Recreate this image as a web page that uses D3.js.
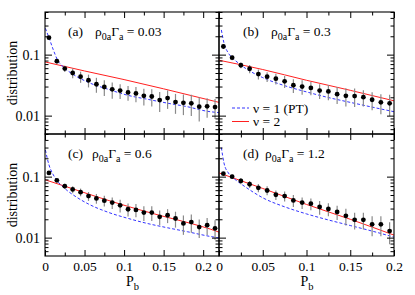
<!DOCTYPE html>
<html><head><meta charset="utf-8">
<script src="https://cdn.jsdelivr.net/npm/d3@7"></script>
<style>body{margin:0;background:#fff}svg{display:block}</style>
</head><body><svg id="c" width="415" height="295"></svg>
<script>
// ---- data ----
const pLeft  = [0.005,0.015,0.025,0.035,0.045,0.055,0.065,0.075,0.085,0.095,0.105,0.115,0.125,0.135,0.145,0.155,0.165,0.175,0.185,0.195,0.205,0.215];
const pRight = [0.005,0.015,0.025,0.035,0.045,0.055,0.065,0.075,0.085,0.095,0.105,0.115,0.125,0.135,0.145,0.155,0.165,0.175,0.185,0.195];

const valsA = [0.19,0.078,0.059,0.05,0.0435,0.038,0.0327,0.0295,0.027,0.0258,0.024,0.0231,0.0211,0.0206,0.018,0.0194,0.0167,0.0162,0.0159,0.014,0.0142,0.0138];
const errA  = [0.012,0.007,0.007,0.009,0.009,0.009,0.009,0.0085,0.008,0.007,0.0065,0.0065,0.0065,0.0065,0.0065,0.0065,0.006,0.006,0.006,0.006,0.005,0.005];
const valsB = [0.136,0.089,0.067,0.0587,0.048,0.0435,0.0404,0.0365,0.0315,0.030,0.0285,0.0258,0.0249,0.0225,0.0211,0.0209,0.0201,0.0182,0.0165,0.0159];
const errB  = [0.01,0.008,0.007,0.009,0.009,0.008,0.008,0.008,0.008,0.008,0.007,0.007,0.007,0.007,0.007,0.007,0.006,0.006,0.006,0.006];
const valsC = [0.115,0.087,0.0697,0.0616,0.0557,0.048,0.044,0.0404,0.0375,0.0339,0.0292,0.0285,0.0258,0.0258,0.0219,0.0233,0.0206,0.0171,0.018,0.0149,0.016,0.0142];
const errC  = [0.008,0.006,0.007,0.008,0.008,0.008,0.008,0.008,0.008,0.008,0.007,0.007,0.007,0.007,0.006,0.006,0.006,0.006,0.006,0.005,0.005,0.005];
const valsD = [0.112,0.1,0.085,0.075,0.0656,0.0593,0.0505,0.048,0.0408,0.0375,0.036,0.0318,0.0295,0.0264,0.0228,0.0196,0.0196,0.0165,0.0165,0.0128];
const errD  = [0.006,0.008,0.01,0.01,0.01,0.01,0.009,0.009,0.009,0.008,0.008,0.008,0.007,0.007,0.007,0.006,0.006,0.006,0.006,0.005];

// curves nu=1 (PT, blue dashed) and nu=2 (red)
const blueA_p = [0.0005,0.005,0.0105,0.0156,0.023,0.035,0.055,0.08,0.105,0.13,0.155,0.18,0.205,0.22];
const blueA_v = [0.27,0.19,0.12,0.083,0.063,0.048,0.035,0.027,0.0215,0.0185,0.016,0.014,0.0118,0.0112];
const redA_p  = [0,0.05,0.1,0.15,0.22];
const redA_v  = [0.076,0.054,0.039,0.0275,0.0165];
const blueB_p = [0.0027,0.0057,0.0107,0.0156,0.022,0.03,0.05,0.075,0.1,0.125,0.15,0.175,0.2];
const blueB_v = [0.254,0.155,0.106,0.088,0.073,0.06,0.042,0.031,0.0245,0.0198,0.0165,0.0138,0.0116];
const redB_p  = [0,0.05,0.1,0.15,0.2];
const redB_v  = [0.081,0.057,0.038,0.026,0.0175];
const blueC_p = [0.0005,0.005,0.01,0.015,0.025,0.04,0.056,0.08,0.106,0.13,0.155,0.18,0.21,0.22];
const blueC_v = [0.274,0.156,0.11,0.087,0.064,0.046,0.035,0.026,0.0205,0.017,0.0145,0.0125,0.0104,0.0099];
const redC_p  = [0,0.025,0.065,0.106,0.146,0.186,0.209,0.22];
const redC_v  = [0.089,0.0697,0.047,0.0322,0.023,0.0169,0.0138,0.0123];
const blueD_p = [0.0027,0.0057,0.0107,0.0156,0.022,0.03,0.05,0.075,0.1,0.125,0.15,0.175,0.2];
const blueD_v = [0.3,0.167,0.115,0.097,0.082,0.068,0.045,0.032,0.0245,0.0195,0.0158,0.0128,0.0102];
const redD_p  = [0,0.05,0.1,0.15,0.2];
const redD_v  = [0.115,0.064,0.035,0.02,0.011];

const titleLetters = ["(a)","(b)","(c)","(d)"];
const titleValues  = ["0.03","0.3","0.6","1.2"];
const xTickMajor = [0,0.05,0.1,0.15,0.2];
const xTickMinor = [0.025,0.075,0.125,0.175];
const yTickMajor = [0.01,0.1];
const yTickMinor = [0.006,0.007,0.008,0.009,0.02,0.03,0.04,0.05,0.06,0.07,0.08,0.09,0.2,0.3,0.4,0.5];
const legendLabels = ["ν = 1 (PT)","ν = 2"];

// ---- layout ----
const FONT = '"Liberation Serif", "Times New Roman", serif';
const svg = d3.select("#c").style("font-family",FONT);
const cols = [{x0:45,x1:219,dom:[0,0.22],p:pLeft},{x0:219,x1:394,dom:[0,0.2],p:pRight}];
const rows = [{y0:12,y1:134},{y0:134,y1:256}];
const yDom = [0.005,0.5];
const panels = [
  {c:0,r:0,vals:valsA,err:errA,bp:blueA_p,bv:blueA_v,rp:redA_p,rv:redA_v,tx:[68,95]},
  {c:1,r:0,vals:valsB,err:errB,bp:blueB_p,bv:blueB_v,rp:redB_p,rv:redB_v,tx:[243,271]},
  {c:0,r:1,vals:valsC,err:errC,bp:blueC_p,bv:blueC_v,rp:redC_p,rv:redC_v,tx:[68,92]},
  {c:1,r:1,vals:valsD,err:errD,bp:blueD_p,bv:blueD_v,rp:redD_p,rv:redD_v,tx:[243,265]}
];

panels.forEach((P,i)=>{
  const C = cols[P.c], R = rows[P.r];
  const x = d3.scaleLinear().domain(C.dom).range([C.x0,C.x1]);
  const y = d3.scaleLog().domain(yDom).range([R.y1,R.y0]);
  const g = svg.append("g");
  const clipId = "clip"+i;
  svg.append("clipPath").attr("id",clipId).append("rect")
    .attr("x",C.x0).attr("y",R.y0).attr("width",C.x1-C.x0).attr("height",R.y1-R.y0);
  const pg = g.append("g").attr("clip-path",`url(#${clipId})`);
  const line = d3.line().x(d=>x(d[0])).y(d=>y(d[1])).curve(d3.curveMonotoneX);
  pg.append("path").datum(P.rp.map((p,k)=>[p,P.rv[k]])).attr("d",line)
    .attr("fill","none").attr("stroke","#ff2020").attr("stroke-width",1);
  pg.append("path").datum(P.bp.map((p,k)=>[p,P.bv[k]])).attr("d",line)
    .attr("fill","none").attr("stroke","#3333ff").attr("stroke-width",1).attr("stroke-dasharray","3,2");
  pg.selectAll("line.err").data(C.p).enter().append("line")
    .attr("x1",p=>x(p)).attr("x2",p=>x(p))
    .attr("y1",(p,k)=>y(P.vals[k]+P.err[k]))
    .attr("y2",(p,k)=>y(Math.max(P.vals[k]-P.err[k],1e-4)))
    .attr("stroke","#8a8a8a").attr("stroke-width",1.2);
  pg.selectAll("circle").data(C.p).enter().append("circle")
    .attr("cx",p=>x(p)).attr("cy",(p,k)=>y(P.vals[k])).attr("r",2.4).attr("fill","#000");
  const bottom = P.r===1, left = P.c===0;
  const ax = (axisFn, scale, vals, size, labels) => {
    const a = axisFn(scale).tickValues(vals).tickSizeInner(size).tickSizeOuter(0).tickPadding(4);
    if(!labels) a.tickFormat("");
    return a;
  };
  const fmtX = d=> d===0?"0":String(d);
  g.append("g").attr("transform",`translate(0,${R.y1})`).call(ax(d3.axisBottom,x,xTickMinor,-3.5,false));
  const gb = g.append("g").attr("transform",`translate(0,${R.y1})`)
    .call(ax(d3.axisBottom,x,xTickMajor,-6,bottom).tickFormat(bottom?fmtX:""));
  gb.selectAll("text").attr("font-size",13.5).attr("dy",null).attr("y",14.5);
  g.append("g").attr("transform",`translate(0,${R.y0})`).call(ax(d3.axisTop,x,xTickMinor,-3.5,false));
  g.append("g").attr("transform",`translate(0,${R.y0})`).call(ax(d3.axisTop,x,xTickMajor,-6,false));
  g.append("g").attr("transform",`translate(${C.x0},0)`).call(ax(d3.axisLeft,y,yTickMinor,-3.5,false));
  const gl = g.append("g").attr("transform",`translate(${C.x0},0)`)
    .call(ax(d3.axisLeft,y,yTickMajor,-7,left).tickFormat(left?(d=>String(d)):""));
  gl.selectAll("text").attr("font-size",14).attr("x",-5);
  g.append("g").attr("transform",`translate(${C.x1},0)`).call(ax(d3.axisRight,y,yTickMinor,-3.5,false));
  g.append("g").attr("transform",`translate(${C.x1},0)`).call(ax(d3.axisRight,y,yTickMajor,-7,false));
  g.selectAll(".domain").remove();
  g.selectAll("g").attr("font-family",null);
  g.selectAll(".tick line").attr("stroke","#000").attr("stroke-width",1);
  g.append("rect").attr("x",C.x0).attr("y",R.y0).attr("width",C.x1-C.x0).attr("height",R.y1-R.y0)
    .attr("fill","none").attr("stroke","#000").attr("stroke-width",1.1);
  const t = g.append("text").attr("y",R.y0+24).attr("font-size",13.5);
  t.append("tspan").attr("x",P.tx[0]).text(titleLetters[i]);
  t.append("tspan").attr("x",P.tx[1]).text("ρ");
  t.append("tspan").attr("dy",4).attr("font-size",10).text("0a");
  t.append("tspan").attr("dy",-4).text("Γ");
  t.append("tspan").attr("dy",4).attr("font-size",10).text("a");
  t.append("tspan").attr("dy",-4).text(" = "+titleValues[i]);
  if(left){
    svg.append("text").attr("transform",`translate(17,${(R.y0+R.y1)/2}) rotate(-90)`)
      .attr("text-anchor","middle").attr("font-size",14).text("distribution");
  }
  if(bottom){
    const lt = svg.append("text").attr("x",(C.x0+C.x1)/2-6).attr("y",286).attr("font-size",14);
    lt.append("tspan").text("P");
    lt.append("tspan").attr("dy",3.5).attr("font-size",10.5).text("b");
  }
});

const lg = svg.append("g");
const legColors = ["#3333ff","#ff2020"], legDash = ["3,2",null];
legendLabels.forEach((s,k)=>{
  const yy = 108 + k*13.5;
  lg.append("line").attr("x1",232).attr("x2",249).attr("y1",yy).attr("y2",yy)
    .attr("stroke",legColors[k]).attr("stroke-width",1).attr("stroke-dasharray",legDash[k]);
  lg.append("text").attr("x",253).attr("y",yy+4.5).attr("font-size",13.5).text(s);
});
svg.selectAll("text").style("font-family",FONT).attr("fill","#000");
</script></body></html>
